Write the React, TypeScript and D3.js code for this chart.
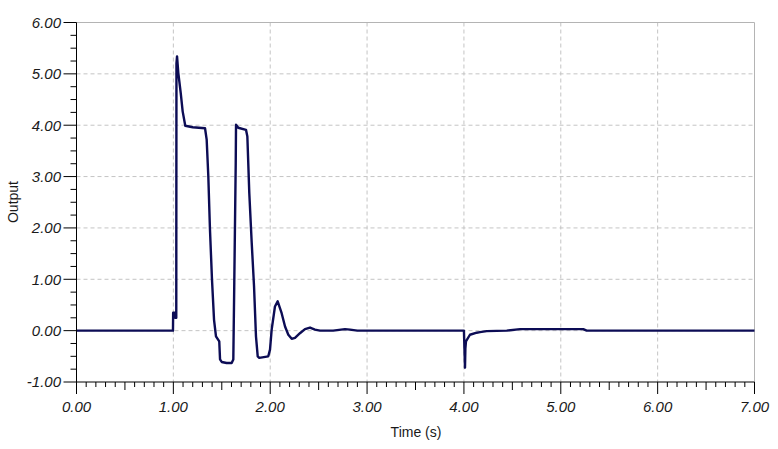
import React from "react";
import * as d3 from "d3";

const times: number[] = [
  0, 0.996, 0.998, 1.015, 1.017, 1.03, 1.032, 1.038, 1.051, 1.076, 1.096, 1.123, 1.2, 1.327,
  1.344, 1.361, 1.378, 1.399, 1.42, 1.44, 1.45, 1.474, 1.482, 1.499, 1.55, 1.602, 1.619,
  1.629, 1.644, 1.647, 1.67, 1.75, 1.764, 1.784, 1.809, 1.833, 1.853, 1.871, 1.887, 1.98,
  1.998, 2.015, 2.049, 2.077, 2.118, 2.153, 2.187, 2.222, 2.256, 2.307, 2.359, 2.411,
  2.462, 2.514, 2.65, 2.772, 2.824, 2.9, 3.998, 4.0, 4.011, 4.015, 4.021, 4.062, 4.132,
  4.166, 4.235, 4.442, 4.58, 5.232, 5.267, 7.0,
];
const values: number[] = [
  0, 0, 0.35, 0.35, 0.25, 0.25, 5.2, 5.34, 5.02, 4.63, 4.27, 3.99, 3.96, 3.94,
  3.72, 3.0, 1.97, 0.99, 0.21, -0.11, -0.14, -0.21, -0.56, -0.61, -0.63, -0.63, -0.56,
  0.93, 3.27, 4.01, 3.95, 3.91, 3.78, 2.68, 1.71, 0.86, -0.11, -0.5, -0.53, -0.5,
  -0.37, 0.02, 0.47, 0.57, 0.34, 0.08, -0.08, -0.16, -0.14, -0.05, 0.03, 0.06,
  0.02, 0.0, 0.0, 0.03, 0.02, 0.0, 0.0, 0.0, -0.72, -0.35, -0.21, -0.08, -0.04,
  -0.03, -0.01, 0.0, 0.03, 0.03, 0.0, 0.0,
];

const xTicks: number[] = [0, 1, 2, 3, 4, 5, 6, 7];
const yTicks: number[] = [-1, 0, 1, 2, 3, 4, 5, 6];

export default function App() {
  const left = 76.5, right = 754.5, top = 22.5, bottom = 382;
  const x = d3.scaleLinear().domain([0, 7]).range([left, right]);
  const y = d3.scaleLinear().domain([-1, 6]).range([bottom, top]);
  const line = d3
    .line<number>()
    .x((_, i) => x(times[i]))
    .y((d) => y(d));
  const pathD = line(values) || "";

  const xMinor = d3.range(0, 70.001, 1).map((v) => v / 10);
  const yMinor = d3.range(-4, 24.001, 1).map((v) => v / 4);
  const font = "'Liberation Sans', Arial, sans-serif";

  return (
    <svg
      width={778}
      height={449}
      style={{ position: "absolute", left: 0, top: 0, background: "#fff" }}
    >
      <rect x={0} y={0} width={778} height={449} fill="#fff" />
      {xTicks.slice(1, -1).map((t) => (
        <line key={"gx" + t} x1={x(t)} x2={x(t)} y1={top} y2={bottom}
          stroke="#c4c4c4" strokeWidth={1} strokeDasharray="4,3" />
      ))}
      {yTicks.slice(1, -1).map((t) => (
        <line key={"gy" + t} x1={left} x2={right} y1={y(t)} y2={y(t)}
          stroke="#c4c4c4" strokeWidth={1} strokeDasharray="4,3" />
      ))}
      <line x1={left} x2={right} y1={top} y2={top} stroke="#b4b4b4" strokeWidth={1} />
      <line x1={right} x2={right} y1={top} y2={bottom} stroke="#b4b4b4" strokeWidth={1} />
      <path d={pathD} fill="none" stroke="#0c0c55" strokeWidth={2.4} strokeLinejoin="round" />
      <line x1={left} x2={left} y1={top} y2={bottom} stroke="#000" strokeWidth={1} />
      <line x1={left} x2={right} y1={bottom} y2={bottom} stroke="#000" strokeWidth={1} />
      {yMinor.map((v) => {
        const major = Math.abs(v - Math.round(v)) < 1e-6;
        return (
          <line key={"yt" + v} x1={left - (major ? 13 : 6)} x2={left} y1={y(v)} y2={y(v)}
            stroke="#000" strokeWidth={1} />
        );
      })}
      {xMinor.map((v, i) => {
        const major = i % 10 === 0;
        const mid = i % 5 === 0;
        return (
          <line key={"xt" + i} x1={x(v)} x2={x(v)} y1={bottom} y2={bottom + (major ? 12 : mid ? 8 : 5)}
            stroke="#000" strokeWidth={1} />
        );
      })}
      {yTicks.map((t) => (
        <text key={"yl" + t} x={61} y={y(t)} dy="0.36em" textAnchor="end"
          fontFamily={font} fontSize={15} fontStyle="italic" fill="#1a1a1a">
          {t.toFixed(2)}
        </text>
      ))}
      {xTicks.map((t) => (
        <text key={"xl" + t} x={x(t)} y={407} dy="0.36em" textAnchor="middle"
          fontFamily={font} fontSize={15} fontStyle="italic" fill="#1a1a1a">
          {t.toFixed(2)}
        </text>
      ))}
      <text x={416} y={437} textAnchor="middle" fontFamily={font} fontSize={14} fill="#1a1a1a">
        Time (s)
      </text>
      <text transform="translate(18,202) rotate(-90)" textAnchor="middle"
        fontFamily={font} fontSize={14} fill="#1a1a1a">
        Output
      </text>
    </svg>
  );
}
